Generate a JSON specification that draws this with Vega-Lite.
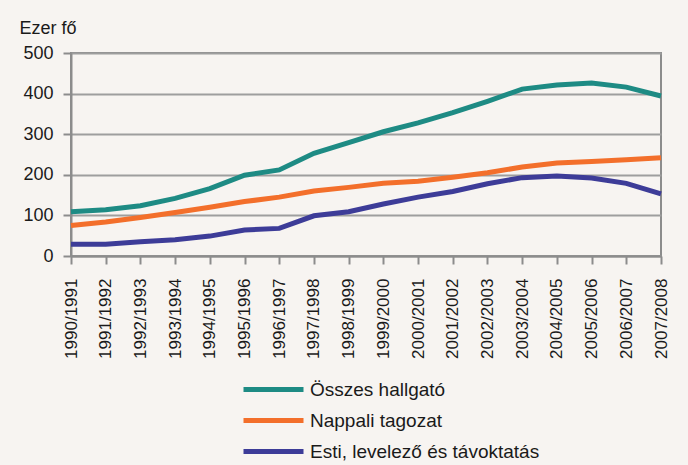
{
  "$schema": "https://vega.github.io/schema/vega-lite/v6.json",
  "width": 590,
  "height": 203,
  "autosize": "none",
  "padding": {"left": 71, "top": 53, "right": 27, "bottom": 209},
  "background": "#F7F4F1",
  "config": {
    "view": {"stroke": "#8C8C8C", "strokeWidth": 2},
    "font": "Liberation Sans",
    "axis": {
      "labelFont": "Liberation Sans",
      "labelColor": "#1a1a1a",
      "titleColor": "#1a1a1a",
      "domainColor": "#8C8C8C",
      "tickColor": "#8C8C8C",
      "gridColor": "#9E9E9E"
    }
  },
  "data": {
    "values": [
      {"ev": "1990/1991", "s": "Összes hallgató", "v": 109},
      {"ev": "1991/1992", "s": "Összes hallgató", "v": 114},
      {"ev": "1992/1993", "s": "Összes hallgató", "v": 124},
      {"ev": "1993/1994", "s": "Összes hallgató", "v": 142},
      {"ev": "1994/1995", "s": "Összes hallgató", "v": 166},
      {"ev": "1995/1996", "s": "Összes hallgató", "v": 199},
      {"ev": "1996/1997", "s": "Összes hallgató", "v": 212},
      {"ev": "1997/1998", "s": "Összes hallgató", "v": 253},
      {"ev": "1998/1999", "s": "Összes hallgató", "v": 279},
      {"ev": "1999/2000", "s": "Összes hallgató", "v": 306},
      {"ev": "2000/2001", "s": "Összes hallgató", "v": 328},
      {"ev": "2001/2002", "s": "Összes hallgató", "v": 353},
      {"ev": "2002/2003", "s": "Összes hallgató", "v": 381},
      {"ev": "2003/2004", "s": "Összes hallgató", "v": 411},
      {"ev": "2004/2005", "s": "Összes hallgató", "v": 421},
      {"ev": "2005/2006", "s": "Összes hallgató", "v": 426},
      {"ev": "2006/2007", "s": "Összes hallgató", "v": 416},
      {"ev": "2007/2008", "s": "Összes hallgató", "v": 394},
      {"ev": "1990/1991", "s": "Nappali tagozat", "v": 75},
      {"ev": "1991/1992", "s": "Nappali tagozat", "v": 84},
      {"ev": "1992/1993", "s": "Nappali tagozat", "v": 95},
      {"ev": "1993/1994", "s": "Nappali tagozat", "v": 107},
      {"ev": "1994/1995", "s": "Nappali tagozat", "v": 120},
      {"ev": "1995/1996", "s": "Nappali tagozat", "v": 134},
      {"ev": "1996/1997", "s": "Nappali tagozat", "v": 145},
      {"ev": "1997/1998", "s": "Nappali tagozat", "v": 160},
      {"ev": "1998/1999", "s": "Nappali tagozat", "v": 169},
      {"ev": "1999/2000", "s": "Nappali tagozat", "v": 179},
      {"ev": "2000/2001", "s": "Nappali tagozat", "v": 184},
      {"ev": "2001/2002", "s": "Nappali tagozat", "v": 194},
      {"ev": "2002/2003", "s": "Nappali tagozat", "v": 205},
      {"ev": "2003/2004", "s": "Nappali tagozat", "v": 219},
      {"ev": "2004/2005", "s": "Nappali tagozat", "v": 229},
      {"ev": "2005/2006", "s": "Nappali tagozat", "v": 233},
      {"ev": "2006/2007", "s": "Nappali tagozat", "v": 237},
      {"ev": "2007/2008", "s": "Nappali tagozat", "v": 242},
      {"ev": "1990/1991", "s": "Esti, levelező és távoktatás", "v": 29},
      {"ev": "1991/1992", "s": "Esti, levelező és távoktatás", "v": 29},
      {"ev": "1992/1993", "s": "Esti, levelező és távoktatás", "v": 35},
      {"ev": "1993/1994", "s": "Esti, levelező és távoktatás", "v": 40},
      {"ev": "1994/1995", "s": "Esti, levelező és távoktatás", "v": 49},
      {"ev": "1995/1996", "s": "Esti, levelező és távoktatás", "v": 64},
      {"ev": "1996/1997", "s": "Esti, levelező és távoktatás", "v": 68},
      {"ev": "1997/1998", "s": "Esti, levelező és távoktatás", "v": 99},
      {"ev": "1998/1999", "s": "Esti, levelező és távoktatás", "v": 109},
      {"ev": "1999/2000", "s": "Esti, levelező és távoktatás", "v": 128},
      {"ev": "2000/2001", "s": "Esti, levelező és távoktatás", "v": 145},
      {"ev": "2001/2002", "s": "Esti, levelező és távoktatás", "v": 159},
      {"ev": "2002/2003", "s": "Esti, levelező és távoktatás", "v": 178},
      {"ev": "2003/2004", "s": "Esti, levelező és távoktatás", "v": 193},
      {"ev": "2004/2005", "s": "Esti, levelező és távoktatás", "v": 197},
      {"ev": "2005/2006", "s": "Esti, levelező és távoktatás", "v": 192},
      {"ev": "2006/2007", "s": "Esti, levelező és távoktatás", "v": 179},
      {"ev": "2007/2008", "s": "Esti, levelező és távoktatás", "v": 153}
    ]
  },
  "mark": {"type": "line", "strokeWidth": 5},
  "encoding": {
    "x": {
      "field": "ev",
      "type": "ordinal",
      "scale": {"type": "point", "padding": 0},
      "axis": {
        "title": null,
        "labelAngle": -90,
        "labelFontSize": 17,
        "labelPadding": 14,
        "tickSize": 8,
        "tickWidth": 2,
        "domainWidth": 2,
        "labelBaseline": "middle",
        "labelAlign": "right"
      }
    },
    "y": {
      "field": "v",
      "type": "quantitative",
      "scale": {"domain": [0, 500], "nice": false},
      "axis": {
        "values": [0, 100, 200, 300, 400, 500],
        "title": "Ezer fő",
        "titleAngle": 0,
        "titleAlign": "left",
        "titleBaseline": "middle",
        "titleX": -52,
        "titleY": -25,
        "titleFontSize": 18,
        "titleFontWeight": "normal",
        "titleFont": "Liberation Sans",
        "labelFontSize": 18,
        "labelPadding": 10,
        "tickSize": 8,
        "tickWidth": 2,
        "domainWidth": 2,
        "gridWidth": 2,
        "grid": true
      }
    },
    "color": {
      "field": "s",
      "type": "nominal",
      "sort": ["Összes hallgató", "Nappali tagozat", "Esti, levelező és távoktatás"],
      "scale": {
        "domain": ["Összes hallgató", "Nappali tagozat", "Esti, levelező és távoktatás"],
        "range": ["#1E8B84", "#F36F2B", "#3D3C98"]
      },
      "legend": {
        "title": null,
        "orient": "none",
        "legendX": 190,
        "legendY": 324,
        "padding": 0,
        "direction": "vertical",
        "symbolType": "M-3,0H3",
        "symbolSize": 400,
        "symbolStrokeWidth": 5,
        "labelFontSize": 19,
        "labelOffset": 24,
        "labelLimit": 400,
        "rowPadding": 8,
        "labelColor": "#1a1a1a",
        "labelFont": "Liberation Sans"
      }
    }
  }
}
